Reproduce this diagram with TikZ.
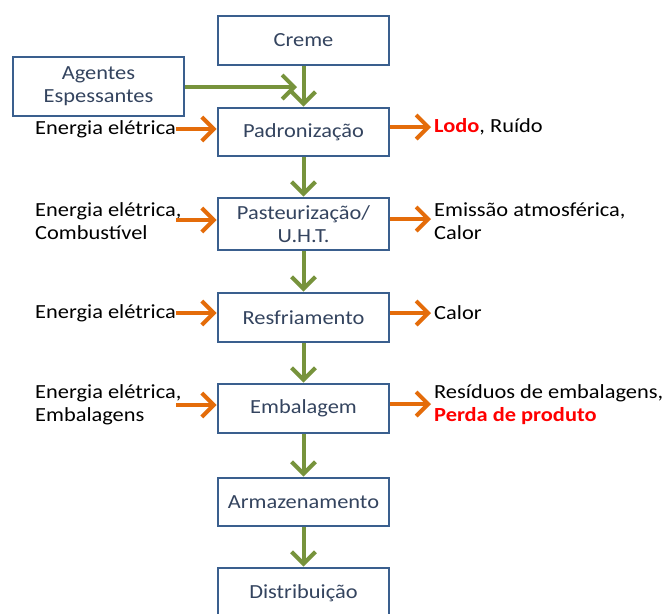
\documentclass[tikz,border=0pt]{standalone}
\usepackage{fontspec}
\setmainfont{Carlito}[FakeStretch=1.12]
\usetikzlibrary{arrows.meta}
\definecolor{boxblue}{HTML}{3A5F8E}
\definecolor{boxtext}{HTML}{34445F}
\definecolor{flowgreen}{HTML}{77933C}
\definecolor{flowor}{HTML}{E46C0A}
\definecolor{alertred}{HTML}{FF0000}
\tikzset{
  stage/.style={draw=boxblue, line width=2.8pt, minimum width=171pt, text=boxtext,
    font=\fontsize{20}{23}\selectfont, align=center, inner sep=0pt},
  side/.style={font=\fontsize{20}{23}\selectfont, align=left, inner sep=0pt, text=black},
  mainflow/.style={draw=flowgreen, line width=4pt,
    -{Straight Barb[length=12pt, width=24pt, line width=4pt]}},
  energyflow/.style={draw=flowor, line width=4pt,
    -{Straight Barb[length=12pt, width=24pt, line width=4pt]}},
}
\begin{document}
\begin{tikzpicture}[x=1pt, y=-1pt]
\useasboundingbox (0,0) rectangle (665,614);
\fill[white] (0,0) rectangle (665,614);

% process stages
\node[stage, minimum height=49pt] (creme) at (303.5,40.5) {Creme};
\node[stage, minimum height=59pt] (agentes) at (98.5,86.5) {Agentes\\Espessantes};
\node[stage, minimum height=48pt] (padr) at (303.5,132) {Padronização};
\node[stage, minimum height=52pt] (past) at (303.5,224) {Pasteurização/\\U.H.T.};
\node[stage, minimum height=49pt] (resf) at (303.5,317.5) {Resfriamento};
\node[stage, minimum height=49pt] (emb) at (303.5,408.5) {Embalagem};
\node[stage, minimum height=48pt] (arm) at (303.5,502) {Armazenamento};
\node[stage, minimum height=50pt] (dist) at (303.5,593) {Distribuição};

% main product flow
\coordinate (join) at (297,87);
\draw[mainflow] (creme.south) -- (padr.north);
\draw[mainflow] (agentes.east |- join) -- (join);
\draw[mainflow] (padr) -- (past);
\draw[mainflow] (past) -- (resf);
\draw[mainflow] (resf) -- (emb);
\draw[mainflow] (emb) -- (arm);
\draw[mainflow] (arm) -- (dist);

% inputs
\node[side, anchor=west] (in1) at (35,129) {Energia elétrica};
\node[side, anchor=west] (in2) at (35,221) {Energia elétrica,\\Combustível};
\node[side, anchor=west] (in3) at (35,313) {Energia elétrica};
\node[side, anchor=west] (in4) at (35,405) {Energia elétrica,\\Embalagens};
\coordinate (in2e) at (176,220);
\coordinate (in4e) at (176,405);
\draw[energyflow] (in1.east) -- (padr.west |- in1.east);
\draw[energyflow] (in2e) -- (past.west |- in2e);
\draw[energyflow] (in3.east) -- (resf.west |- in3.east);
\draw[energyflow] (in4e) -- (emb.west |- in4e);

% outputs
\node[side, anchor=west] (out1) at (434,127) {\textcolor{alertred}{\bfseries Lodo}, Ruído};
\node[side, anchor=west] (out2) at (434,221) {Emissão atmosférica,\\Calor};
\node[side, anchor=west] (out3) at (434,313) {Calor};
\node[side, anchor=west] (out4) at (434,405) {Resíduos de embalagens,\\\textcolor{alertred}{\bfseries Perda de produto}};
\coordinate (o1) at (431,127);
\coordinate (o2) at (431,219);
\coordinate (o3) at (431,313);
\coordinate (o4) at (431,404);
\draw[energyflow] (padr.east |- o1) -- (o1);
\draw[energyflow] (past.east |- o2) -- (o2);
\draw[energyflow] (resf.east |- o3) -- (o3);
\draw[energyflow] (emb.east |- o4) -- (o4);
\end{tikzpicture}
\end{document}
